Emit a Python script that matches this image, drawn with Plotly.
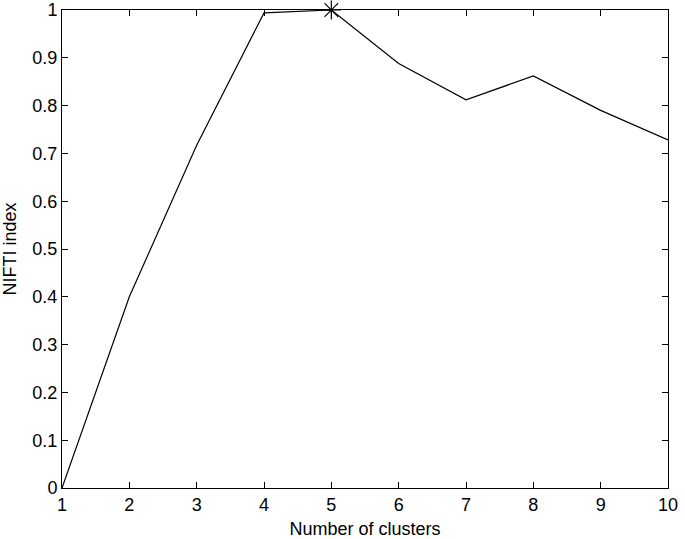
import plotly.graph_objects as go
import numpy as np

clusters = [1, 2, 3, 4, 5, 6, 7, 8, 9, 10]
nifti = [0.0, 0.40, 0.717, 0.994, 1.0, 0.888, 0.812, 0.862, 0.790, 0.728]
x_ticks = [1, 2, 3, 4, 5, 6, 7, 8, 9, 10]
y_ticks = [0, 0.1, 0.2, 0.3, 0.4, 0.5, 0.6, 0.7, 0.8, 0.9, 1]
y_tick_labels = ["0", "0.1", "0.2", "0.3", "0.4", "0.5", "0.6", "0.7", "0.8", "0.9", "1"]

best = int(np.argmax(nifti))

FONT = "Liberation Sans, Arial, Helvetica"

fig = go.Figure()
fig.add_trace(go.Scatter(x=clusters, y=nifti, mode="lines",
                         line=dict(color="black", width=1.2), showlegend=False))
fig.add_trace(go.Scatter(x=[clusters[best]], y=[nifti[best]], mode="markers",
                         marker=dict(symbol="asterisk-open", size=16, color="black",
                                     line=dict(color="black", width=1.2)),
                         showlegend=False, cliponaxis=False))

axis_common = dict(showgrid=False, zeroline=False, showline=True, linecolor="black",
                   linewidth=1, mirror="ticks", ticks="inside", ticklen=6,
                   tickcolor="black", automargin=False,
                   tickfont=dict(family=FONT, size=18, color="black"))

fig.update_layout(
    width=685, height=539,
    margin=dict(l=62, r=17, t=10, b=51),
    plot_bgcolor="white", paper_bgcolor="white",
    xaxis=dict(range=[1, 10], tickvals=x_ticks, ticktext=[str(v) for v in x_ticks],
               title=dict(text="Number of clusters",
                          font=dict(family=FONT, size=18, color="black")),
               **axis_common),
    yaxis=dict(range=[0, 1], tickvals=y_ticks, ticktext=y_tick_labels,
               title=dict(text="NIFTI index",
                          font=dict(family=FONT, size=18, color="black")),
               **axis_common),
)

fig.write_html("out.html", config={"displayModeBar": False},
               post_script="document.body.style.margin='0';")
